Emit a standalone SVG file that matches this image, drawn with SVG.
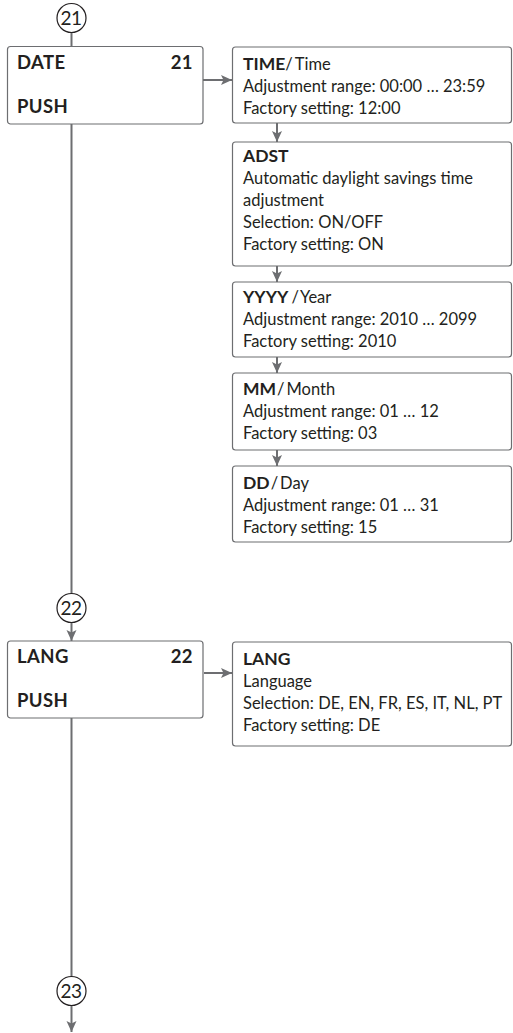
<svg xmlns="http://www.w3.org/2000/svg" width="513" height="1033" viewBox="0 0 513 1033">
<defs>
<marker id="ah" markerUnits="userSpaceOnUse" markerWidth="14" markerHeight="12" viewBox="-12 -6 14 12" refX="0" refY="0" orient="auto">
<path d="M0,0 L-11,-5 L-8.5,0 L-11,5 Z" fill="#6d6e71"/>
</marker>
</defs>
<style>
.box{fill:#fff;stroke:#6d6e71;stroke-width:1.2}
.ln{stroke:#6d6e71;stroke-width:2;fill:none}
.t{font-family:Lato,"Open Sans",sans-serif;font-size:16.5px;fill:#231f20}
.b{font-family:Lato,"Open Sans",sans-serif;font-size:17.5px;font-weight:bold;fill:#231f20}
.bl{font-family:Lato,"Open Sans",sans-serif;font-size:18.5px;font-weight:bold;fill:#231f20;letter-spacing:0.4px}
.c{fill:#fff;stroke:#231f20;stroke-width:1.2}
.cn{font-family:Lato,"Open Sans",sans-serif;font-size:19px;fill:#231f20;text-anchor:middle;letter-spacing:-0.5px}
</style>
<g id="connectors">
<line class="ln" x1="71.5" y1="32.5" x2="71.5" y2="46.5"/>
<line class="ln" x1="203" y1="80" x2="232" y2="80" marker-end="url(#ah)"/>
<line class="ln" x1="71.5" y1="124" x2="71.5" y2="593.5"/>
<line class="ln" x1="71.5" y1="622.5" x2="71.5" y2="641" marker-end="url(#ah)"/>
<line class="ln" x1="204" y1="673" x2="232" y2="673" marker-end="url(#ah)"/>
<line class="ln" x1="71.5" y1="718" x2="71.5" y2="976.5"/>
<line class="ln" x1="71.5" y1="1005.5" x2="71.5" y2="1032" marker-end="url(#ah)"/>
<line class="ln" x1="277" y1="123" x2="277" y2="142" marker-end="url(#ah)"/>
<line class="ln" x1="277" y1="266" x2="277" y2="282" marker-end="url(#ah)"/>
<line class="ln" x1="277" y1="357" x2="277" y2="373" marker-end="url(#ah)"/>
<line class="ln" x1="277" y1="450" x2="277" y2="466" marker-end="url(#ah)"/>
</g>
<g id="c21"><circle class="c" cx="71.5" cy="18" r="14.5"/><text class="cn" x="71" y="24.5">21</text></g>
<g id="c22"><circle class="c" cx="71.5" cy="608" r="14.5"/><text class="cn" x="71" y="614.5">22</text></g>
<g id="c23"><circle class="c" cx="71.5" cy="991" r="14.5"/><text class="cn" x="71" y="997.5">23</text></g>
<g id="date">
<rect class="box" x="7.5" y="46.5" width="195.5" height="77.5" rx="3"/>
<text class="bl" x="17" y="68.5">DATE</text>
<text class="bl" x="193" y="68.5" text-anchor="end">21</text>
<text class="bl" x="17" y="113">PUSH</text>
</g>
<g id="time">
<rect class="box" x="232.5" y="47" width="279" height="76" rx="3"/>
<text class="t" x="243" y="70"><tspan class="b">TIME</tspan>/<tspan dx="2">Time</tspan></text>
<text class="t" x="243" y="92">Adjustment range: 00:00 … 23:59</text>
<text class="t" x="243" y="114">Factory setting: 12:00</text>
</g>
<g id="adst">
<rect class="box" x="232.5" y="142" width="279" height="124" rx="3"/>
<text class="b" x="243" y="161.5">ADST</text>
<text class="t" x="243" y="183.5">Automatic daylight savings time</text>
<text class="t" x="243" y="205.5">adjustment</text>
<text class="t" x="243" y="227.5">Selection: ON/OFF</text>
<text class="t" x="243" y="249.5">Factory setting: ON</text>
</g>
<g id="yyyy">
<rect class="box" x="232.5" y="282" width="279" height="75" rx="3"/>
<text class="t" x="243" y="303"><tspan class="b">YYYY</tspan><tspan dx="3">/</tspan><tspan dx="1">Year</tspan></text>
<text class="t" x="243" y="325">Adjustment range: 2010 … 2099</text>
<text class="t" x="243" y="347">Factory setting: 2010</text>
</g>
<g id="mm">
<rect class="box" x="232.5" y="373" width="279" height="77" rx="3"/>
<text class="t" x="243" y="395"><tspan class="b">MM</tspan><tspan dx="1">/</tspan><tspan dx="2">Month</tspan></text>
<text class="t" x="243" y="417">Adjustment range: 01 … 12</text>
<text class="t" x="243" y="439">Factory setting: 03</text>
</g>
<g id="dd">
<rect class="box" x="232.5" y="466" width="279" height="76" rx="3"/>
<text class="t" x="243" y="488.5"><tspan class="b">DD</tspan><tspan dx="1">/</tspan><tspan dx="2">Day</tspan></text>
<text class="t" x="243" y="510.5">Adjustment range: 01 … 31</text>
<text class="t" x="243" y="532.5">Factory setting: 15</text>
</g>
<g id="lang">
<rect class="box" x="7.5" y="641" width="195.5" height="77" rx="3"/>
<text class="bl" x="17" y="662.5">LANG</text>
<text class="bl" x="193" y="662.5" text-anchor="end">22</text>
<text class="bl" x="17" y="707">PUSH</text>
</g>
<g id="langdetail">
<rect class="box" x="232.5" y="642" width="279" height="104" rx="3"/>
<text class="b" x="243" y="665">LANG</text>
<text class="t" x="243" y="687">Language</text>
<text class="t" x="243" y="709">Selection: DE, EN, FR, ES, IT, NL, PT</text>
<text class="t" x="243" y="731">Factory setting: DE</text>
</g>
</svg>
